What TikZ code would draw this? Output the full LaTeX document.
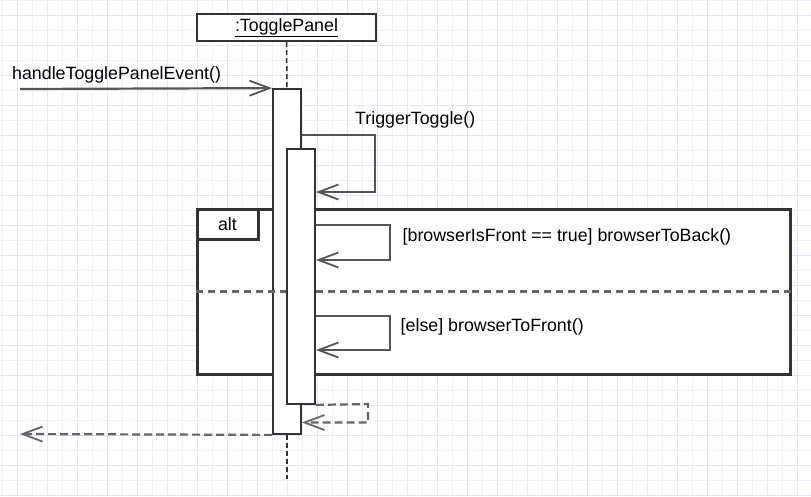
\documentclass[tikz,border=0pt]{standalone}
\usepackage{fontspec}
\setmainfont{Liberation Sans}
\usetikzlibrary{arrows.meta}
\definecolor{gridminor}{HTML}{EFEFFD}
\definecolor{gridmajor}{HTML}{E5E5FA}
\definecolor{ink}{HTML}{333333}
\definecolor{msgc}{HTML}{555555}
\definecolor{dashc}{HTML}{666666}
\tikzset{
  lbl/.style={inner sep=0pt, font=\fontsize{17.8}{21}\selectfont, text=black},
  headbox/.style={draw=ink, line width=2pt, fill=white, inner sep=0pt, font=\fontsize{17.8}{21}\selectfont},
  actbox/.style={draw=ink, line width=1.8pt, fill=white, inner sep=0pt, minimum width=28pt},
  framebox/.style={draw=ink, line width=3pt, fill=white, inner sep=0pt},
  lifeline/.style={draw=ink, line width=1.5pt, dash pattern=on 5pt off 3pt},
  tip/.style={-{Straight Barb[length=20pt,width=15pt,line width=1.8pt]}},
  msg/.style={draw=msgc, line width=2.2pt, tip},
  retmsg/.style={draw=dashc, line width=2.2pt, dash pattern=on 8pt off 4pt, tip},
  divider/.style={draw=dashc, line width=2.2pt, dash pattern=on 7pt off 5pt},
}
\begin{document}
\begin{tikzpicture}[x=1pt,y=-1pt]
\useasboundingbox (0,0) rectangle (811,496);
\fill[white] (0,0) rectangle (811,496);
% grid
\foreach \x in {2.5,32.5,...,811} \draw[gridminor, line width=1pt] (\x,0) -- (\x,496);
\foreach \x in {17.5,47.5,...,811} \draw[gridmajor, line width=1pt] (\x,0) -- (\x,496);
\foreach \y in {0,30,...,496} \draw[gridminor, line width=1pt] (0,\y) -- (811,\y);
\foreach \y in {15,45,...,496} \draw[gridmajor, line width=1pt] (0,\y) -- (811,\y);

% alt frame
\node[framebox, minimum width=593pt, minimum height=165pt] (alt) at (493.5,291.5) {};
\node[framebox, minimum width=61pt, minimum height=30pt, font=\fontsize{17.8}{21}\selectfont] (altlbl) at (227.5,224) {alt};

% lifeline head
\node[headbox, minimum width=179pt, minimum height=27pt] (head) at (286.5,27.5) {\underline{:TogglePanel}};

% activations
\node[actbox, minimum height=345pt] (act1) at (287,261.5) {};
\draw[divider] (alt.west) -- (alt.east);
\node[actbox, minimum height=255pt] (act2) at (301,276.5) {};

% lifeline
\coordinate (llend) at (287,479);
\draw[lifeline] (head.south) -- (act1.north);
\draw[lifeline] (act1.south) -- (llend);

% incoming message
\coordinate (caller) at (20,89);
\draw[msg] (caller) -- (act1.north west);
\node[lbl, anchor=base west] (inlbl) at (12,79) {handleTogglePanelEvent()};

% TriggerToggle self message
\coordinate (tt1) at (375,135);
\coordinate (tt2) at (375,192);
\draw[msg] (act1.east |- tt1) -- (tt1) -- (tt2) -- (act2.east |- tt2);
\node[lbl, anchor=base west] (ttlbl) at (355,124) {TriggerToggle()};

% browserToBack
\coordinate (s1a) at (390,225);
\coordinate (s1b) at (390,260);
\draw[msg] (act2.east |- s1a) -- (s1a) -- (s1b) -- (act2.east |- s1b);
\node[lbl, anchor=base west] (s1lbl) at (402.5,241) {[browserIsFront == true] browserToBack()};

% browserToFront
\coordinate (s2a) at (390,316);
\coordinate (s2b) at (390,350);
\draw[msg] (act2.east |- s2a) -- (s2a) -- (s2b) -- (act2.east |- s2b);
\node[lbl, anchor=base west] (s2lbl) at (400.5,331) {[else] browserToFront()};

% return from nested activation
\coordinate (r1a) at (368,404);
\coordinate (r1b) at (368,422.5);
\draw[retmsg] (act2.south east) -- (r1a) -- (r1b) -- (act1.east |- r1b);

% return to caller
\coordinate (back) at (20,434);
\draw[retmsg] (act1.south west) -- (back);
\end{tikzpicture}
\end{document}
